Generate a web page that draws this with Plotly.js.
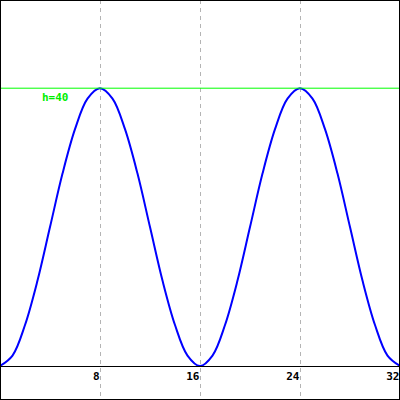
<!DOCTYPE html>
<html>
<head>
<meta charset="utf-8">
<script src="https://cdn.plot.ly/plotly-3.0.1.min.js"></script>
<style>html,body{margin:0;padding:0;background:#fff}#chart{width:400px;height:400px}</style>
</head>
<body>
<div id="chart"></div>
<script>
// x positions and wave heights
const xValues = [0,1,2,3,4,5,6,7,8,9,10,11,12,13,14,15,16,17,18,19,20,21,22,23,24,25,26,27,28,29,30,31,32];
const heights = [0,1.5,5.9,12.3,20,27.7,34.1,38.5,40,38.5,34.1,27.7,20,12.3,5.9,1.5,0,1.5,5.9,12.3,20,27.7,34.1,38.5,40,38.5,34.1,27.7,20,12.3,5.9,1.5,0];
const tickValues = [8,16,24,32];
const tickLabels = ["8","16","24","32"];
const hLevel = 40;
const hLabel = "h=40";

const monoBold = {family: "DejaVu Sans Mono, monospace", size: 11, weight: "bold"};

const data = [{
  x: xValues, y: heights, type: "scatter", mode: "lines",
  line: {color: "#0000ff", width: 2, shape: "spline"},
  hoverinfo: "skip"
}];

const layout = {
  width: 400, height: 400,
  margin: {l: 0, r: 0, t: 0, b: 0, pad: 0},
  paper_bgcolor: "#ffffff", plot_bgcolor: "#ffffff",
  showlegend: false,
  xaxis: {
    range: [0, 32], anchor: "free", position: 0.085,
    tickvals: tickValues, ticktext: tickLabels,
    ticklabelposition: "outside left",
    tickfont: Object.assign({color: "#000000"}, monoBold),
    ticks: "", showline: true, linecolor: "#000000", linewidth: 1,
    showgrid: true, gridcolor: "#b4b4b4", gridwidth: 1, griddash: "4px,4px",
    zeroline: false, fixedrange: true
  },
  yaxis: {
    range: [-4.9, 52.7], showticklabels: false, showgrid: false,
    zeroline: false, showline: false, ticks: "", fixedrange: true
  },
  shapes: [
    {type: "line", xref: "paper", x0: 0, x1: 1, yref: "y", y0: hLevel, y1: hLevel,
     line: {color: "#00ff00", width: 1}},
    {type: "rect", xref: "paper", yref: "paper", x0: 0, x1: 1, y0: 0, y1: 1,
     line: {color: "#000000", width: 2}}
  ],
  annotations: [
    {x: 3.2, y: hLevel, xref: "x", yref: "y", text: hLabel, showarrow: false,
     xanchor: "left", yanchor: "top", yshift: -1,
     font: Object.assign({color: "#00ee00"}, monoBold)}
  ]
};

Plotly.newPlot("chart", data, layout, {staticPlot: true, displayModeBar: false});
</script>
</body>
</html>
